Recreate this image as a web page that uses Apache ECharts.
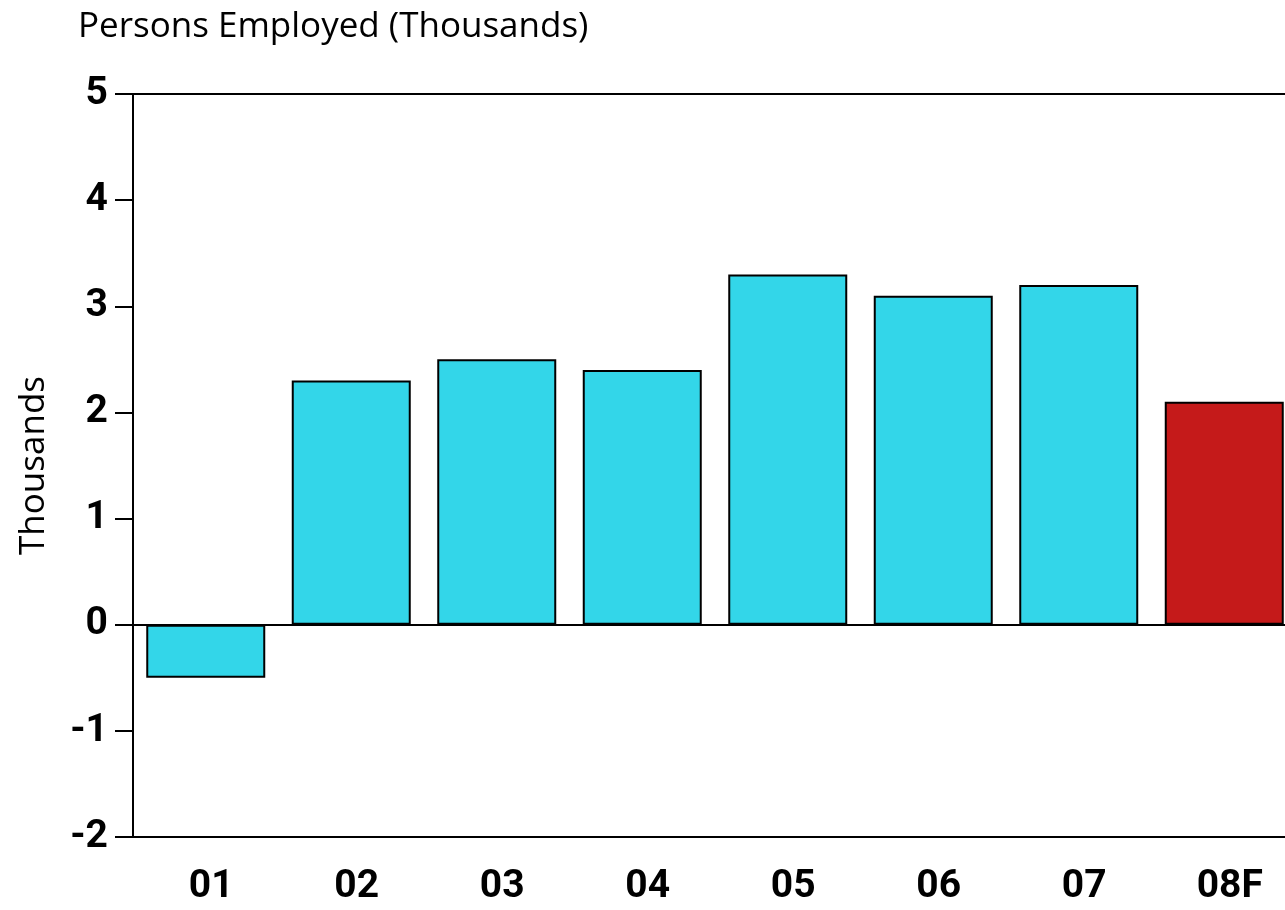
<!DOCTYPE html>
<html>
<head>
<meta charset="utf-8">
<script src="https://cdn.jsdelivr.net/npm/echarts@6/dist/echarts.min.js"></script>
<style>
  html, body { margin: 0; padding: 0; background: #fff; }
  #chart { width: 1285px; height: 910px; }
</style>
</head>
<body>
<div id="chart"></div>
<script>
// Annual change in persons employed, thousands
const years = ['01', '02', '03', '04', '05', '06', '07', '08F'];
const employmentChange = [-0.5, 2.3, 2.5, 2.4, 3.3, 3.1, 3.2, 2.1];
const forecastYears = ['08F'];
const yTicks = [-2, -1, 0, 1, 2, 3, 4, 5];

const actualColor = '#33D6E9';
const forecastColor = '#C51A1A';

const chart = echarts.init(document.getElementById('chart'));

chart.setOption({
  animation: false,
  backgroundColor: '#fff',
  title: {
    text: 'Persons Employed (Thousands)',
    left: 73,
    top: 5,
    textStyle: {
      fontFamily: 'Open Sans',
      fontWeight: 'normal',
      fontSize: 35,
      color: '#000'
    }
  },
  grid: {
    left: 133,
    top: 94,
    width: 1164,
    height: 743,
    containLabel: false,
    outerBoundsMode: 'none'
  },
  xAxis: [
    {
      type: 'category',
      data: years,
      position: 'bottom',
      axisLine: { onZero: false, lineStyle: { color: '#000', width: 2 } },
      axisTick: { show: false },
      axisLabel: {
        margin: 31,
        padding: [0, 0, 0, 11],
        fontFamily: 'Roboto',
        fontWeight: 'bold',
        fontSize: 39,
        color: '#000'
      }
    },
    {
      type: 'category',
      data: years,
      position: 'top',
      axisLine: { onZero: false, lineStyle: { color: '#000', width: 2 } },
      axisTick: { show: false },
      axisLabel: { show: false }
    }
  ],
  yAxis: {
    type: 'value',
    min: yTicks[0],
    max: yTicks[yTicks.length - 1],
    interval: 1,
    name: 'Thousands',
    nameLocation: 'middle',
    nameGap: 81,
    nameTextStyle: {
      fontFamily: 'Open Sans',
      fontSize: 35,
      color: '#000'
    },
    axisLine: { show: true, lineStyle: { color: '#000', width: 2 } },
    axisTick: { show: true, inside: false, length: 18, lineStyle: { color: '#000', width: 2 } },
    splitLine: { show: false },
    axisLabel: {
      margin: 25,
      fontFamily: 'Roboto',
      fontWeight: 'bold',
      fontSize: 39,
      color: '#000'
    }
  },
  series: [
    {
      type: 'bar',
      xAxisIndex: 0,
      barWidth: 119,
      data: employmentChange.map((v, i) => ({
        value: v,
        itemStyle: {
          color: forecastYears.includes(years[i]) ? forecastColor : actualColor
        }
      })),
      itemStyle: { borderColor: '#000', borderWidth: 2 },
      markLine: {
        silent: true,
        symbol: 'none',
        label: { show: false },
        lineStyle: { color: '#000', width: 2, type: 'solid' },
        data: [{ yAxis: 0 }]
      },
      z: 2
    }
  ]
});
</script>
</body>
</html>
